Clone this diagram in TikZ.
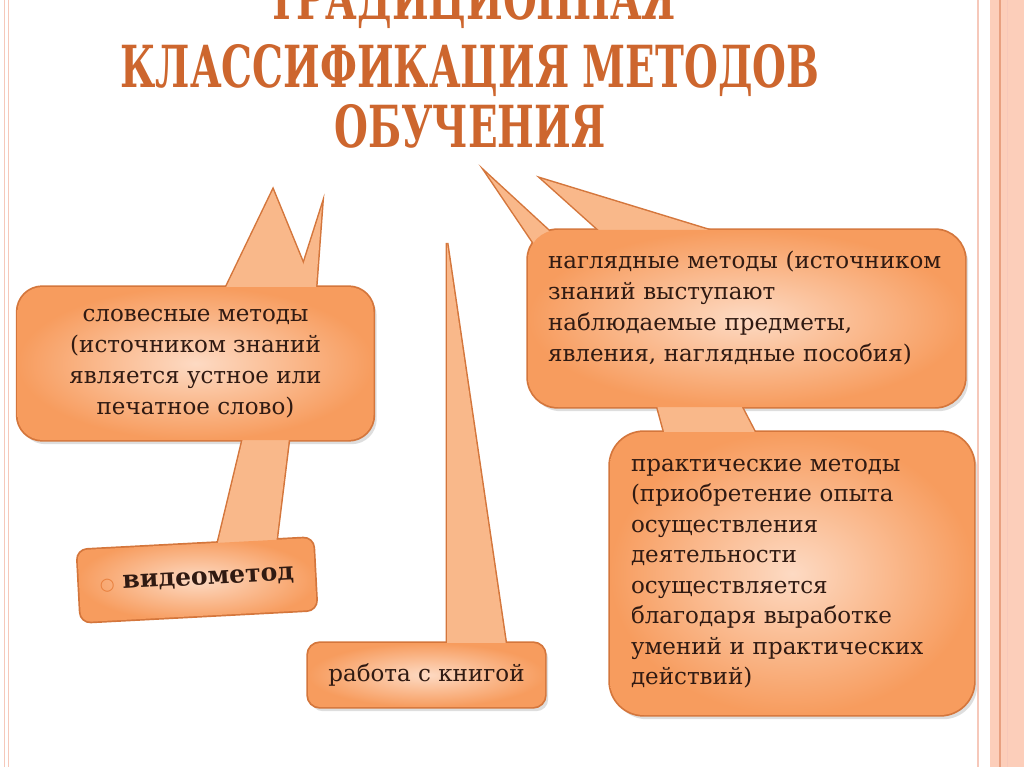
\documentclass[tikz,border=0pt]{standalone}
\usepackage{fontspec}
\setmainfont{DejaVu Serif}
\newfontfamily\titlefont[FakeStretch=0.67]{DejaVu Serif}
\newfontfamily\symbolfont{DejaVu Sans}
\usetikzlibrary{positioning}
\pgfdeclarelayer{outline}
\pgfdeclarelayer{pointer}
\pgfsetlayers{outline,pointer,main}
\definecolor{titlecol}{RGB}{205,102,46}
\definecolor{boxin}{RGB}{253,218,195}
\definecolor{boxout}{RGB}{247,156,94}
\definecolor{boxline}{RGB}{212,118,60}
\definecolor{ptrfill}{RGB}{249,184,138}
\definecolor{inktext}{RGB}{48,26,18}
\definecolor{bulletcol}{RGB}{232,128,62}
\definecolor{stripe}{RGB}{252,206,186}
\definecolor{stripedark}{RGB}{232,160,128}
\definecolor{stripepale}{RGB}{246,200,186}
\tikzset{
  methodbox/.style={shade, inner color=boxin, outer color=boxout, text=inktext,
    font=\fontsize{23}{31}\selectfont, inner sep=0pt},
  boxrim/.style={draw=boxline, line width=3pt},
  boxshadow/.style={fill=black, opacity=0.13},
  pointerfill/.style={fill=ptrfill},
  titleline/.style={text=titlecol, anchor=base, inner sep=0pt,
    font=\titlefont\bfseries\fontsize{58}{60}\selectfont},
}

\begin{document}
\begin{tikzpicture}[x=1pt, y=-1pt]
    \useasboundingbox (0,0) rectangle (1024,767);
    % frame at the sides
    \fill[stripe] (990,0) rectangle (1024,767);
    \draw[stripedark, line width=1.3pt] (1000,0) -- (1000,767);
    \draw[stripepale, line width=1pt] (1007,0) -- (1007,767);
    \draw[stripepale, line width=1.5pt] (978,0) -- (978,767);
    \draw[stripepale, line width=1pt] (4,0) -- (4,767);
    \draw[stripepale, line width=0.8pt] (8,0) -- (8,767);

    % title
    \node[titleline] (title1) at (472,20) {ТРАДИЦИОННАЯ};
    \node[titleline] (title2) at (470,88) {КЛАССИФИКАЦИЯ МЕТОДОВ};
    \node[titleline] (title3) at (470,148) {ОБУЧЕНИЯ};

    % boxes
    \node[methodbox, minimum width=356pt, minimum height=153pt, rounded corners=25pt,
          align=center] (verbal) at (195.5,363.5)
          {словесные методы\\(источником знаний\\является устное или\\печатное слово)};
    \node[methodbox, minimum width=437pt, minimum height=177pt, rounded corners=30pt,
          align=left, text width=397pt, text depth=117pt] (visual) at (746.5,318.5)
          {наглядные методы (источником\\знаний выступают\\наблюдаемые предметы,\\явления, наглядные пособия)};
    \node[methodbox, minimum width=364pt, minimum height=283pt, rounded corners=34pt,
          align=left, text width=322pt, font=\fontsize{23}{30.5}\selectfont] (practical) at (792,573.5)
          {практические методы\\(приобретение опыта\\осуществления\\деятельности\\осуществляется\\благодаря выработке\\умений и практических\\действий)};
    \node[methodbox, minimum width=237pt, minimum height=64pt, rounded corners=12pt]
          (book) at (426.5,675) {работа с книгой};
    \node[methodbox, minimum width=236pt, minimum height=72pt, rounded corners=10pt,
          rotate=3, font=\fontsize{25}{28}\selectfont\bfseries] (video) at (197,580)
          {\textcolor{bulletcol}{\symbolfont\fontsize{17}{17}\selectfont ○}\hspace{8pt}видеометод};

    % pointer tips
    \coordinate (verbaltip) at (273,190);
    \coordinate (verbalthin) at (322,206);
    \coordinate (visualtip) at (487,174);
    \coordinate (visualwide) at (542,179);
    \coordinate (booktip) at (447,243);

    \begin{pgfonlayer}{pointer}
        \fill[pointerfill] (226,300) -- (226,287.5) -- (verbaltip) -- (313,287.5) -- (313,300) -- cycle;
        \fill[pointerfill] (296,300) -- (296,287.5) -- (verbalthin) -- (316,287.5) -- (316,300) -- cycle;
        \fill[pointerfill] (245,430) -- (290,430) -- (275,552) -- (215,555) -- cycle;
        \fill[pointerfill] (visualtip) -- (550,232) -- (560,252) -- (540,256) -- (533,242) -- cycle;
        \fill[pointerfill] (visualwide) -- (712,231) -- (712,246) -- (600,246) -- (600,231) -- cycle;
        \fill[pointerfill] (655,398) -- (737,398) -- (762,446) -- (668,446) -- cycle;
        \fill[pointerfill] (booktip) -- (507,652) -- (447,652) -- cycle;
    \end{pgfonlayer}

    \begin{pgfonlayer}{outline}
        % soft shadows
        \fill[boxshadow, rounded corners=25pt] ([shift={(3,4)}]verbal.north west) rectangle ([shift={(3,4)}]verbal.south east);
        \fill[boxshadow, rounded corners=30pt] ([shift={(3,4)}]visual.north west) rectangle ([shift={(3,4)}]visual.south east);
        \fill[boxshadow, rounded corners=34pt] ([shift={(3,4)}]practical.north west) rectangle ([shift={(3,4)}]practical.south east);
        \fill[boxshadow, rounded corners=12pt] ([shift={(3,4)}]book.north west) rectangle ([shift={(3,4)}]book.south east);
        % rims of boxes and pointers
        \draw[boxrim, rounded corners=25pt] (verbal.north west) rectangle (verbal.south east);
        \draw[boxrim, rounded corners=30pt] (visual.north west) rectangle (visual.south east);
        \draw[boxrim, rounded corners=34pt] (practical.north west) rectangle (practical.south east);
        \draw[boxrim, rounded corners=12pt] (book.north west) rectangle (book.south east);
        \draw[boxrim, rounded corners=10pt] (video.north west) -- (video.north east)
            -- (video.south east) -- (video.south west) -- cycle;
        \draw[boxrim] (226,300) -- (226,287.5) -- (verbaltip) -- (313,287.5) -- (313,300);
        \draw[boxrim] (296,300) -- (296,287.5) -- (verbalthin) -- (316,287.5) -- (316,300);
        \draw[boxrim] (245,430) -- (215,555) (290,430) -- (275,552);
        \draw[boxrim] (533,242) -- (visualtip) -- (550,232);
        \draw[boxrim] (600,231) -- (visualwide) -- (712,231);
        \draw[boxrim] (655,398) -- (668,446) (737,398) -- (762,446);
        \draw[boxrim] (447,652) -- (booktip) -- (507,652);
    \end{pgfonlayer}
\end{tikzpicture}
\end{document}
